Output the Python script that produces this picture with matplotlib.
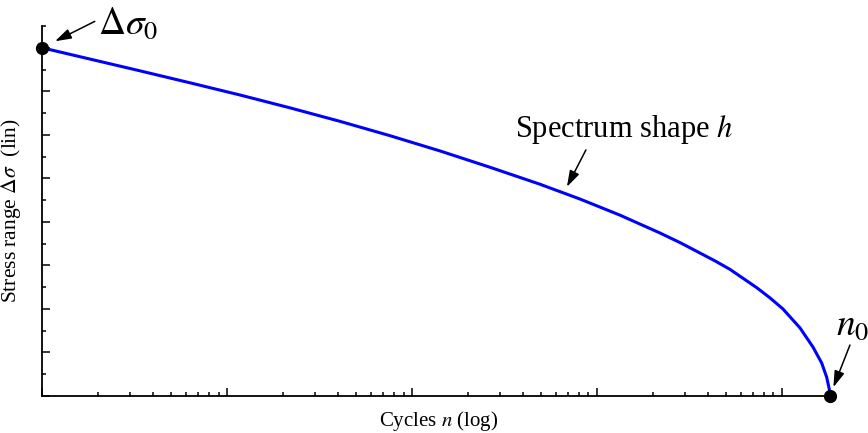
import matplotlib
matplotlib.use("Agg")
import matplotlib.pyplot as plt
from matplotlib.ticker import MultipleLocator, LogLocator, NullFormatter

plt.rcParams['font.family'] = ['Liberation Serif', 'DejaVu Serif']
plt.rcParams['mathtext.fontset'] = 'stix'

# values (stress in arbitrary linear units, cycles on log axis)
cycles = [1, 1.818, 3.386, 6.31, 11.76, 21.9, 40.8, 76.1, 141.7, 264, 491.9, 809.4,
          1331.6, 2190.5, 2809, 3604, 4343, 5235, 7328, 8612, 10125, 12515, 14714,
          16393, 17443, 18019, 18177]
stress = [160, 154.8, 149.4, 143.9, 138.3, 132.4, 126.2, 119.6, 112.6, 105.1, 97.3, 90.5,
          83.1, 74.9, 70.5, 65.7, 62.1, 58.2, 49.7, 45.1, 40.0, 31.3, 22.5,
          15.2, 8.7, 3.2, 0]
ds0 = stress[0]
n0 = cycles[-1]


def create_image():
    fig = plt.figure(figsize=(8.68, 4.33), dpi=100)
    ax = fig.add_axes([42 / 868, 37 / 433, 794 / 868, 370 / 433])

    ax.plot(cycles, stress, color='#0000ff', lw=2.2, zorder=3, solid_joinstyle='round')
    ax.plot([cycles[0], n0], [ds0, 0], 'o', color='black', ms=8.5, clip_on=False, zorder=4)

    ax.set_xscale('log')
    ax.set_xlim(1, 19600)
    ax.set_ylim(0, 170)

    ax.xaxis.set_major_locator(LogLocator(base=10))
    ax.xaxis.set_minor_locator(LogLocator(base=10, subs=range(2, 10)))
    ax.xaxis.set_major_formatter(NullFormatter())
    ax.xaxis.set_minor_formatter(NullFormatter())
    ax.yaxis.set_major_locator(MultipleLocator(20))
    ax.yaxis.set_minor_locator(MultipleLocator(10))
    ax.yaxis.set_major_formatter(NullFormatter())

    ax.tick_params(which='both', direction='in', width=1.1, top=False, right=False)
    ax.tick_params(which='major', length=5.5)
    ax.tick_params(which='minor', length=3)
    for s in ('top', 'right'):
        ax.spines[s].set_visible(False)
    for s in ('left', 'bottom'):
        ax.spines[s].set_linewidth(1.3)

    ax.set_xlabel('Cycles $n$ (log)', fontsize=15, labelpad=6)
    ax.set_ylabel(r'Stress range $\Delta\sigma$  (lin)', fontsize=15.5, labelpad=10)

    arrow = dict(arrowstyle='-|>,head_length=0.7,head_width=0.22', color='black', lw=1.1,
                 mutation_scale=14, shrinkA=0, shrinkB=0)

    # Delta sigma_0 label
    ax.annotate('', xy=(cycles[0], ds0), xytext=(38, 19), textcoords='offset points',
                arrowprops=dict(arrow, shrinkB=10.5), annotation_clip=False)
    ax.annotate(r'$\Delta\sigma_0$', xy=(cycles[0], ds0), xytext=(62, 17),
                textcoords='offset points', fontsize=27, ha='center', va='center',
                annotation_clip=False)

    # spectrum shape label
    tip = (688, 96.1)
    ax.annotate('', xy=tip, xytext=(13.7, 26.6), textcoords='offset points',
                arrowprops=arrow)
    ax.annotate('Spectrum shape $h$', xy=tip, xytext=(41, 41), textcoords='offset points',
                fontsize=22, ha='center', va='center')

    # n0 label
    ax.annotate('', xy=(n0, 0), xytext=(14.4, 36.7), textcoords='offset points',
                arrowprops=dict(arrow, shrinkB=6.8), annotation_clip=False)
    ax.annotate('$n_0$', xy=(n0, 0), xytext=(16, 51), textcoords='offset points',
                fontsize=27, ha='center', va='center', annotation_clip=False)

    fig.savefig('out.png', dpi=100)
    plt.close('all')


create_image()
